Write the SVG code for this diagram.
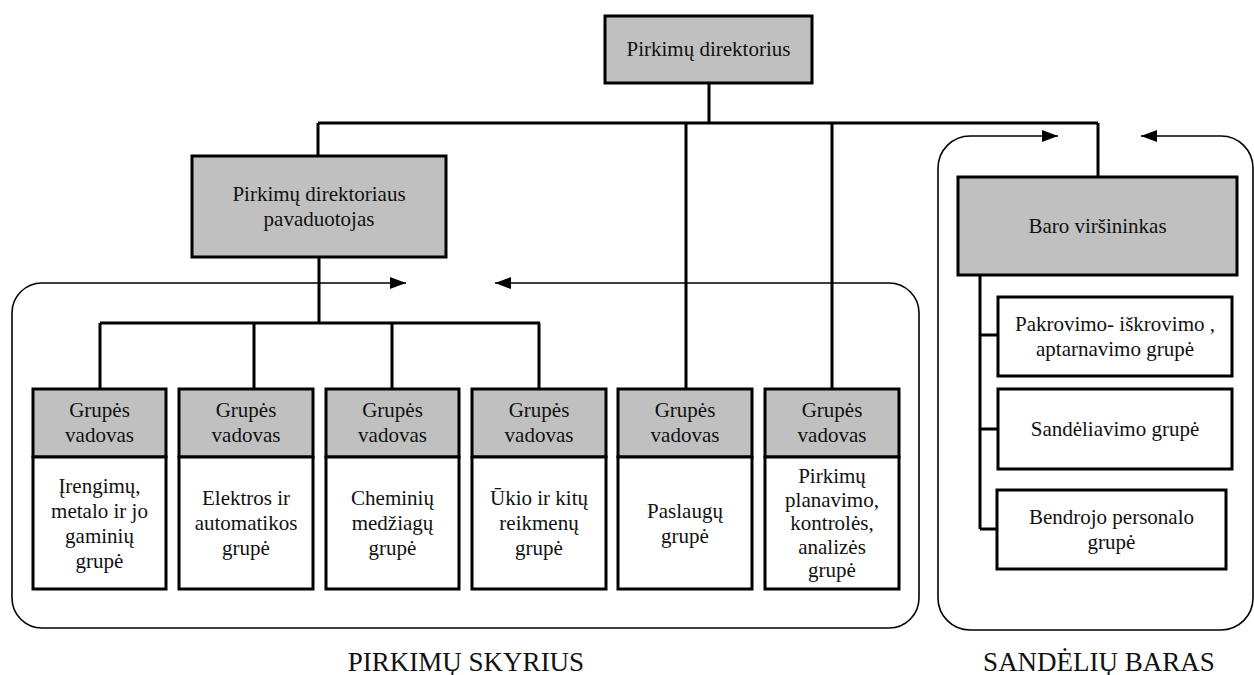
<svg xmlns="http://www.w3.org/2000/svg" width="1254" height="675" viewBox="0 0 1254 675">
  <defs>
    <marker id="arrow" viewBox="0 0 16 12" refX="16" refY="6" markerWidth="16" markerHeight="12" markerUnits="userSpaceOnUse" orient="auto-start-reverse">
      <path d="M0,0 L16,6 L0,12 Z" fill="#000"/>
    </marker>
    <style>
      .box { stroke: #000; stroke-width: 3; }
      .grey { fill: #c0c0c0; }
      .white { fill: #fff; }
      .frame { fill: none; stroke: #000; stroke-width: 1.6; }
      .line { fill: none; stroke: #000; stroke-width: 3; }
      text { font-family: "Liberation Serif", "Noto Serif", "DejaVu Serif", Times, serif; font-size: 21px; fill: #111; text-anchor: middle; }
      .caption { font-size: 27px; }
    </style>
  </defs>

  <!-- department frames with the arrow gaps on their top edges -->
  <g id="frames">
    <path class="frame" marker-start="url(#arrow)" marker-end="url(#arrow)"
          d="M406,283 H42 A30,30 0 0 0 12,313 V598 A30,30 0 0 0 42,628 H889 A30,30 0 0 0 919,598 V313 A30,30 0 0 0 889,283 H495"/>
    <path class="frame" marker-start="url(#arrow)" marker-end="url(#arrow)"
          d="M1058,136 H970 A32,32 0 0 0 938,168 V598 A32,32 0 0 0 970,630 H1221 A32,32 0 0 0 1253,598 V168 A32,32 0 0 0 1221,136 H1141"/>
  </g>

  <!-- connectors -->
  <g id="connectors">
    <path class="line" d="M709,83 V123 M318,123 H1098 M318,123 V156 M686,123 V389 M832,123 V389 M1098,123 V177"/>
    <path class="line" d="M319,257 V323 M100,323 H540 M100,323 V389 M254,323 V389 M392,323 V389 M539,323 V389"/>
    <path class="line" d="M980,275 V529 M980,335 H998 M980,429 H998 M980,529 H997"/>
  </g>

  <g id="director">
    <rect class="box grey" x="605" y="16" width="207" height="67"/>
    <text x="708.5" y="56">Pirkimų direktorius</text>
  </g>

  <g id="deputy">
    <rect class="box grey" x="192" y="156" width="254" height="101"/>
    <text x="319" y="201">Pirkimų direktoriaus</text>
    <text x="319" y="226">pavaduotojas</text>
  </g>

  <g id="group1">
    <rect class="box grey" x="33" y="389" width="133" height="68"/>
    <rect class="box white" x="33" y="457" width="133" height="132"/>
    <text x="99.5" y="417">Grupės</text>
    <text x="99.5" y="442">vadovas</text>
    <text x="99.5" y="493">Įrengimų,</text>
    <text x="99.5" y="518">metalo ir jo</text>
    <text x="99.5" y="543">gaminių</text>
    <text x="99.5" y="568">grupė</text>
  </g>

  <g id="group2">
    <rect class="box grey" x="179" y="389" width="134" height="68"/>
    <rect class="box white" x="179" y="457" width="134" height="132"/>
    <text x="246" y="417">Grupės</text>
    <text x="246" y="442">vadovas</text>
    <text x="246" y="505">Elektros ir</text>
    <text x="246" y="530">automatikos</text>
    <text x="246" y="555">grupė</text>
  </g>

  <g id="group3">
    <rect class="box grey" x="326" y="389" width="133" height="68"/>
    <rect class="box white" x="326" y="457" width="133" height="132"/>
    <text x="392.5" y="417">Grupės</text>
    <text x="392.5" y="442">vadovas</text>
    <text x="392.5" y="505">Cheminių</text>
    <text x="392.5" y="530">medžiagų</text>
    <text x="392.5" y="555">grupė</text>
  </g>

  <g id="group4">
    <rect class="box grey" x="472" y="389" width="134" height="68"/>
    <rect class="box white" x="472" y="457" width="134" height="132"/>
    <text x="539" y="417">Grupės</text>
    <text x="539" y="442">vadovas</text>
    <text x="539" y="505">Ūkio ir kitų</text>
    <text x="539" y="530">reikmenų</text>
    <text x="539" y="555">grupė</text>
  </g>

  <g id="group5">
    <rect class="box grey" x="618" y="389" width="134" height="68"/>
    <rect class="box white" x="618" y="457" width="134" height="132"/>
    <text x="685" y="417">Grupės</text>
    <text x="685" y="442">vadovas</text>
    <text x="685" y="518">Paslaugų</text>
    <text x="685" y="543">grupė</text>
  </g>

  <g id="group6">
    <rect class="box grey" x="765" y="389" width="134" height="68"/>
    <rect class="box white" x="765" y="457" width="134" height="132"/>
    <text x="832" y="417">Grupės</text>
    <text x="832" y="442">vadovas</text>
    <text x="832" y="483">Pirkimų</text>
    <text x="832" y="506.5">planavimo,</text>
    <text x="832" y="530">kontrolės,</text>
    <text x="832" y="553.5">analizės</text>
    <text x="832" y="577">grupė</text>
  </g>

  <g id="warehouse-head">
    <rect class="box grey" x="958" y="177" width="279" height="98"/>
    <text x="1097.5" y="233">Baro viršininkas</text>
  </g>

  <g id="loading">
    <rect class="box white" x="998" y="297" width="234" height="79"/>
    <text x="1115" y="331">Pakrovimo- iškrovimo ,</text>
    <text x="1115" y="356">aptarnavimo grupė</text>
  </g>

  <g id="storage">
    <rect class="box white" x="998" y="389" width="234" height="80"/>
    <text x="1115" y="436">Sandėliavimo grupė</text>
  </g>

  <g id="staff">
    <rect class="box white" x="997" y="490" width="229" height="79"/>
    <text x="1111.5" y="524">Bendrojo personalo</text>
    <text x="1111.5" y="549">grupė</text>
  </g>

  <g id="captions">
    <text class="caption" x="466" y="671">PIRKIMŲ SKYRIUS</text>
    <text class="caption" x="1099" y="671">SANDĖLIŲ BARAS</text>
  </g>
</svg>
